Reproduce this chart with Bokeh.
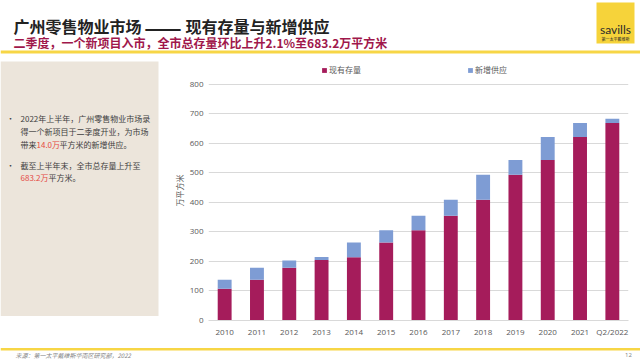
from bokeh.plotting import figure
from bokeh.models import (Range1d, FactorRange, Legend, LegendItem, ColumnDataSource,
                          FixedTicker)
from bokeh.layouts import column, row
from bokeh.embed import file_html
from bokeh.resources import INLINE
from bokeh.core.properties import value

# ---------------- data ----------------
categories = ["2010", "2011", "2012", "2013", "2014", "2015", "2016",
              "2017", "2018", "2019", "2020", "2021", "Q2/2022"]
existing_stock = [108, 138, 179, 205, 214, 264, 306, 355, 409, 494, 544, 622, 669.2]
new_supply = [30, 41, 24, 10, 50, 42, 49, 54, 85, 50, 78, 47, 14.0]
series_names = ["现有存量", "新增供应"]
y_ticks = [0, 100, 200, 300, 400, 500, 600, 700, 800]

title_parts = ["广州零售物业市场", "——", "现有存量与新增供应"]
subtitle_text = "二季度，一个新项目入市，全市总存量环比上升2.1%至683.2万平方米"
source_text = "来源：第一太平戴维斯华南区研究部，2022"
page_no = "12"

CJK_NAME = "Noto Sans CJK SC"
LAT_NAME = "Open Sans"
CJK = value(CJK_NAME)
LAT = value(LAT_NAME)
C_EXIST = "#A51C5B"
C_NEW = "#7E9CD4"
YELLOW = "#F7D646"
BEIGE = "#ECE5DB"
TXT = "#404040"
RED = "#E5483F"

# ---------------- header ----------------
hdr = figure(width=640, height=58, x_range=Range1d(0, 640), y_range=Range1d(58, 0),
             x_axis_type=None, y_axis_type=None, toolbar_location=None,
             output_backend="svg", min_border=0, outline_line_color=None)
hdr.grid.visible = False
hdr.quad(left=0, right=640, top=50, bottom=53, fill_color=YELLOW, line_color=None)
hdr.text(x=[13], y=[25], text=[title_parts[0]], text_font=CJK, text_font_size="16px",
         text_font_style="bold", text_color="#222222", text_baseline="middle")
hdr.text(x=[162.5], y=[25], text=[title_parts[1]], text_font=CJK, text_font_size="22px",
         text_font_style="bold", text_color="#222222", text_baseline="middle",
         text_align="center")
hdr.text(x=[185], y=[25], text=[title_parts[2]], text_font=CJK, text_font_size="16px",
         text_font_style="bold", text_color="#222222", text_baseline="middle")
hdr.text(x=[13], y=[42], text=[subtitle_text], text_font=CJK, text_font_size="12px",
         text_font_style="bold", text_color="#A0174B", text_baseline="middle")
hdr.quad(left=596, right=634, top=2, bottom=43, fill_color="#F6D33A", line_color=None)
hdr.text(x=[615], y=[29], text=["savills"], text_font=value("Lato"), text_font_size="12px",
         text_color="#2B2B2B", text_align="center", text_baseline="middle")
hdr.text(x=[615], y=[38.5], text=["第一太平戴维斯"], text_font=CJK, text_font_size="4px",
         text_color="#2B2B2B", text_align="center", text_baseline="middle")

# ---------------- left panel ----------------
pan = figure(width=170, height=288, x_range=Range1d(0, 170), y_range=Range1d(288, 0),
             x_axis_type=None, y_axis_type=None, toolbar_location=None,
             output_backend="svg", min_border=0, outline_line_color=None)
pan.grid.visible = False
pan.quad(left=0, right=158, top=1, bottom=283, fill_color=BEIGE, line_color=None)

def ptext(x, y, s, color=TXT):
    pan.text(x=[x], y=[y], text=[s], text_font=CJK, text_font_size="8px",
             text_color=color, text_baseline="middle")

ptext(6, 64.7, "•")
ptext(20, 64.7, "2022年上半年，广州零售物业市场录")
ptext(20, 79, "得一个新项目于二季度开业，为市场")
ptext(20, 93, "带来")
ptext(36, 93, "14.0万", RED)
ptext(59, 93, "平方米的新增供应。")
ptext(6, 116, "•")
ptext(20, 116, "截至上半年末，全市总存量上升至")
ptext(20, 130, "683.2万", RED)
ptext(48, 130, "平方米。")

# ---------------- chart ----------------
# frame spans page y 60..320; the 800 gridline lands at y=84 and the legend sits inside
src = ColumnDataSource(dict(cat=categories, existing=existing_stock, new=new_supply))
ch = figure(width=470, height=288, x_range=FactorRange(*categories, range_padding=0),
            y_range=Range1d(0, 881), toolbar_location=None, output_backend="svg",
            min_border_left=33, min_border_right=12, min_border_top=2, min_border_bottom=26,
            outline_line_color=None)
rs = ch.vbar_stack(["existing", "new"], x="cat", width=0.43, color=[C_EXIST, C_NEW],
                   line_color=None, source=src)

ch.xgrid.visible = False
ch.ygrid.grid_line_color = "#D9D9D9"
ch.ygrid.grid_line_width = 1
ch.yaxis.ticker = FixedTicker(ticks=y_ticks)
for ax in (ch.xaxis[0], ch.yaxis[0]):
    ax.axis_line_color = None
    ax.major_tick_line_color = None
    ax.minor_tick_line_color = None
    ax.major_tick_out = 0
    ax.major_tick_in = 0
    ax.minor_tick_out = 0
    ax.minor_tick_in = 0
    ax.major_label_text_font = LAT_NAME
    ax.major_label_text_font_size = "8px"
    ax.major_label_text_color = "#595959"
    ax.major_label_standoff = 5
ch.xaxis.axis_line_color = "#D9D9D9"
ch.yaxis.axis_label = "万平方米"
ch.yaxis.axis_label_text_font = CJK_NAME
ch.yaxis.axis_label_text_font_size = "8px"
ch.yaxis.axis_label_text_font_style = "normal"
ch.yaxis.axis_label_text_color = "#595959"
ch.yaxis.axis_label_standoff = 2

legend = Legend(items=[LegendItem(label=series_names[0], renderers=[rs[0]]),
                       LegendItem(label=series_names[1], renderers=[rs[1]])],
                location=(113, 245), orientation="horizontal",
                glyph_width=6, glyph_height=6, label_height=10, label_standoff=2,
                label_text_font=CJK_NAME, label_text_font_size="8px",
                label_text_color="#595959",
                spacing=106, padding=2, margin=0,
                background_fill_alpha=0, border_line_color=None)
ch.add_layout(legend, "center")

# ---------------- footer ----------------
ftr = figure(width=640, height=14, x_range=Range1d(0, 640), y_range=Range1d(14, 0),
             x_axis_type=None, y_axis_type=None, toolbar_location=None,
             output_backend="svg", min_border=0, outline_line_color=None)
ftr.grid.visible = False
ftr.quad(left=0, right=640, top=1.5, bottom=4, fill_color=YELLOW, line_color=None)
ftr.text(x=[15], y=[8.5], text=[source_text], text_font=CJK, text_font_size="6px",
         text_font_style="italic", text_color="#7F7F7F", text_baseline="middle")
ftr.text(x=[628], y=[8.5], text=[page_no], text_font=LAT, text_font_size="6px",
         text_color="#7F7F7F", text_align="center", text_baseline="middle")

p = column(hdr, row(pan, ch), ftr)

open("out.html", "w").write(file_html(p, INLINE))
